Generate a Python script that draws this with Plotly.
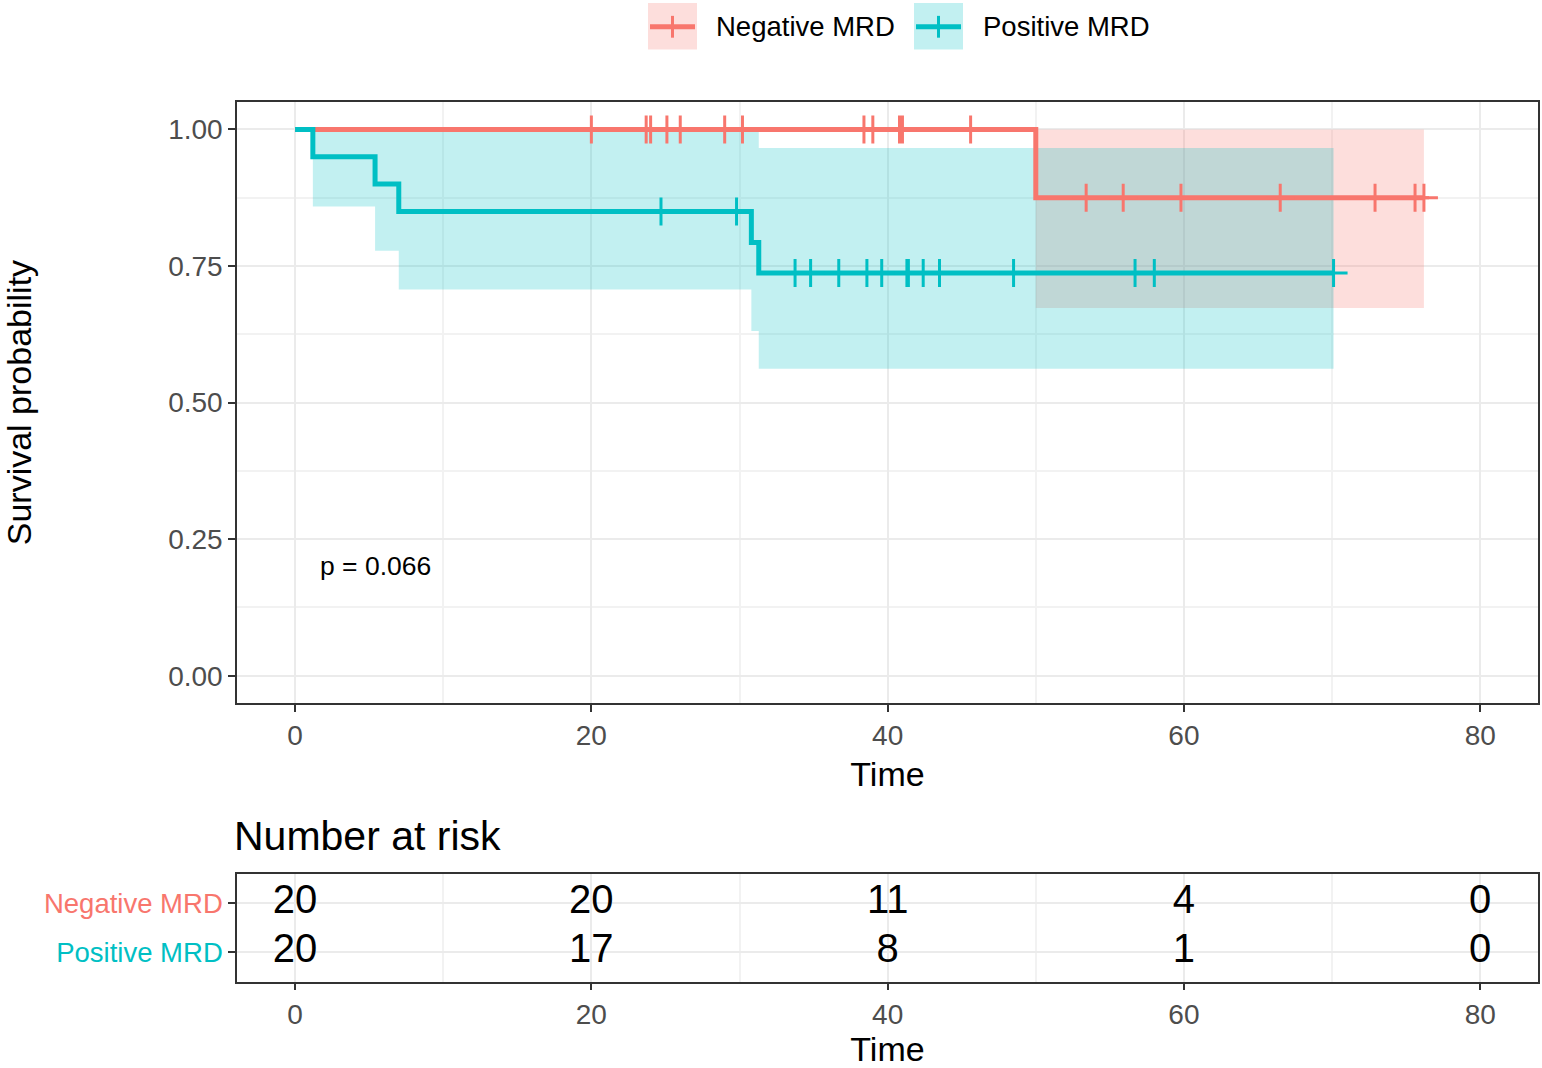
import plotly.graph_objects as go

# ---------------- data ----------------
groups = ["Negative MRD", "Positive MRD"]
colors = ["#F8766D", "#00BFC4"]

# Kaplan-Meier step curves (time, survival)
neg_step_time = [0, 50.0, 76.2]
neg_step_surv = [1.0, 0.875, 0.875]
neg_ci_lower = [1.0, 0.673, 0.673]
neg_ci_upper = [1.0, 1.0, 1.0]
neg_censor = [20.0, 23.7, 24.0, 25.1, 26.0, 29.0, 30.2, 38.4, 39.0, 40.8, 41.0,
              45.6, 53.4, 55.9, 59.8, 66.5, 72.9, 75.6, 76.2]

pos_step_time = [0, 1.2, 5.4, 7.0, 30.8, 31.3, 70.1]
pos_step_surv = [1.0, 0.95, 0.90, 0.85, 0.793, 0.737, 0.737]
pos_ci_lower = [1.0, 0.859, 0.778, 0.707, 0.631, 0.562, 0.562]
pos_ci_upper = [1.0, 1.0, 1.0, 1.0, 0.997, 0.966, 0.966]
pos_censor = [24.7, 29.8, 33.75, 34.8, 36.7, 38.6, 39.6, 41.3, 41.4, 42.4, 43.5,
              48.5, 56.7, 58.0, 70.1]

pval_text = "p = 0.066"

risk_times = [0, 20, 40, 60, 80]
risk_neg = [20, 20, 11, 4, 0]
risk_pos = [20, 17, 8, 1, 0]

x_ticks = [0, 20, 40, 60, 80]
y_ticks = [0.0, 0.25, 0.5, 0.75, 1.0]

W, H = 1542, 1068
FONT = "Liberation Sans, Arial, sans-serif"

X_RANGE = [-3.92, 83.9]


def px(x):
    return min(max(x / W, 0.0), 1.0)


def py(y):
    return min(max(1 - y / H, 0.0), 1.0)


def surv_at(times, survs, t):
    s = survs[0]
    for ti, si in zip(times, survs):
        if ti <= t:
            s = si
    return s


def rgba(hexc, a):
    h = hexc.lstrip("#")
    r, g, b = int(h[0:2], 16), int(h[2:4], 16), int(h[4:6], 16)
    return f"rgba({r},{g},{b},{a})"


ALPHA = 0.24
fig = go.Figure()

curves = [
    (neg_step_time, neg_step_surv, neg_ci_lower, neg_ci_upper, neg_censor),
    (pos_step_time, pos_step_surv, pos_ci_lower, pos_ci_upper, pos_censor),
]

# confidence bands
for (t, s, lo, up, cen), col, name in zip(curves, colors, groups):
    fig.add_trace(go.Scatter(x=t, y=lo, mode="lines", line=dict(width=0, shape="hv"),
                             showlegend=False, hoverinfo="skip", xaxis="x", yaxis="y"))
    fig.add_trace(go.Scatter(x=t, y=up, mode="lines", line=dict(width=0, shape="hv"),
                             fill="tonexty", fillcolor=rgba(col, ALPHA),
                             showlegend=False, hoverinfo="skip", xaxis="x", yaxis="y"))

# survival curves + censor marks
for (t, s, lo, up, cen), col, name in zip(curves, colors, groups):
    fig.add_trace(go.Scatter(x=t, y=s, mode="lines", line=dict(color=col, width=5, shape="hv"),
                             name=name, showlegend=False, xaxis="x", yaxis="y"))
    fig.add_trace(go.Scatter(x=cen, y=[surv_at(t, s, c) for c in cen], mode="markers",
                             marker=dict(symbol="cross-thin", size=20,
                                         line=dict(color=col, width=3)),
                             showlegend=False, xaxis="x", yaxis="y"))

# risk table numbers
for vals, yv in [(risk_neg, 1), (risk_pos, 0)]:
    fig.add_trace(go.Scatter(x=risk_times, y=[yv] * len(risk_times), mode="text",
                             text=[str(v) for v in vals],
                             textfont=dict(size=40, color="black", family=FONT),
                             textposition="middle center", showlegend=False,
                             xaxis="x2", yaxis="y2"))

axis_common = dict(
    showline=True, mirror=True, linecolor="#333333", linewidth=1.5,
    ticks="outside", ticklen=7, tickwidth=2, tickcolor="#333333",
    tickfont=dict(size=28, color="#4D4D4D"),
    showgrid=True, gridcolor="#EBEBEB", gridwidth=2, zeroline=False,
)

xdom = [px(237), px(1538)]

fig.update_layout(
    width=W, height=H,
    margin=dict(l=0, r=0, t=0, b=0),
    plot_bgcolor="white", paper_bgcolor="white",
    font=dict(family=FONT, color="black"),
    showlegend=False,
    xaxis=dict(domain=xdom, anchor="y", range=X_RANGE, tickmode="array", tickvals=x_ticks,
               minor=dict(tickvals=[10, 30, 50, 70], showgrid=True, gridcolor="#F2F2F2",
                          gridwidth=1.5, ticks=""),
               title=dict(text="Time", font=dict(size=34, color="black"), standoff=12),
               **axis_common),
    yaxis=dict(domain=[py(709), py(103)], anchor="x", range=[-0.05, 1.05], tickmode="array",
               tickvals=y_ticks, ticktext=[f"{v:.2f}" for v in y_ticks],
               minor=dict(tickvals=[0.125, 0.375, 0.625, 0.875], showgrid=True,
                          gridcolor="#F2F2F2", gridwidth=1.5, ticks=""),
               title=dict(text="Survival probability", font=dict(size=34, color="black"),
                          standoff=134),
               **axis_common),
    xaxis2=dict(domain=xdom, anchor="y2", range=X_RANGE, tickmode="array", tickvals=x_ticks,
                minor=dict(tickvals=[10, 30, 50, 70], showgrid=True, gridcolor="#F2F2F2",
                           gridwidth=1.5, ticks=""),
                title=dict(text="Time", font=dict(size=34, color="black"), standoff=14),
                **axis_common),
    yaxis2=dict(domain=[py(990), py(881)], anchor="x2", range=[-0.6, 1.6], tickmode="array",
                tickvals=[1, 0],
                ticktext=[f'<span style="color:{colors[0]}">{groups[0]}</span>',
                          f'<span style="color:{colors[1]}">{groups[1]}</span>'],
                **{**axis_common, "tickfont": dict(size=27.5, color="#4D4D4D")}),
)

# annotations
fig.add_annotation(x=1.55, y=0.2, xref="x", yref="y", text=pval_text, showarrow=False,
                   xanchor="left", yanchor="middle", font=dict(size=26.5, color="black"))
fig.add_annotation(x=px(232), y=py(843), xref="paper", yref="paper", text="Number at risk",
                   showarrow=False, xanchor="left", yanchor="middle",
                   font=dict(size=41, color="black"))

# manual legend (top, centered)
legend_items = [(648, 716, 0), (914, 983, 1)]
for bx, tx, gi in legend_items:
    col = colors[gi]
    fig.add_shape(type="rect", xref="paper", yref="paper", x0=px(bx), x1=px(bx + 49),
                  y0=py(50), y1=py(3), fillcolor=rgba(col, ALPHA), line=dict(width=0))
    fig.add_shape(type="line", xref="paper", yref="paper", x0=px(bx + 2), x1=px(bx + 47),
                  y0=py(27), y1=py(27), line=dict(color=col, width=5))
    fig.add_shape(type="line", xref="paper", yref="paper", x0=px(bx + 24.5), x1=px(bx + 24.5),
                  y0=py(16), y1=py(38), line=dict(color=col, width=3))
    fig.add_annotation(x=px(tx - 2), y=py(27), xref="paper", yref="paper", text=groups[gi],
                       showarrow=False, xanchor="left", yanchor="middle",
                       font=dict(size=27.5, color="black"))

# place the figure at the page's top-left corner (no default body margin)
page_css = ("document.body.style.margin='0';document.body.style.padding='0';"
            "document.body.style.overflow='hidden';"
            "document.documentElement.style.overflow='hidden';")

fig.write_html("out.html", post_script=page_css, config={"displayModeBar": False})
